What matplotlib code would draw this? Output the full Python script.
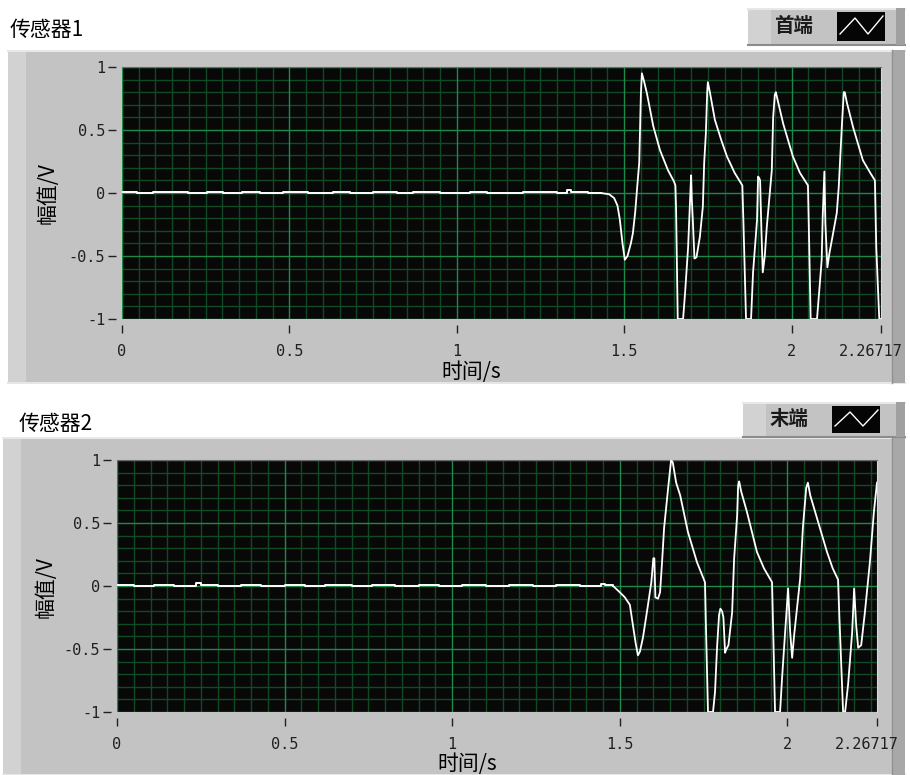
import matplotlib
matplotlib.use("Agg")
import matplotlib.pyplot as plt
import matplotlib.transforms as mtransforms
from matplotlib.patches import Rectangle
from matplotlib.lines import Line2D

W, H = 910, 775
CJK = ["Noto Sans CJK SC", "DejaVu Sans"]

# ===== 数据=====
X_END = 2.26717
XTICKS = [0, 0.5, 1, 1.5, 2, X_END]
XTICK_LABELS = ["0", "0.5", "1", "1.5", "2", "2.26717"]
YTICKS = [-1, -0.5, 0, 0.5, 1]
YTICK_LABELS = ["-1", "-0.5", "0", "0.5", "1"]

# 传感器1：静止段（阶梯）
flat1_t = [0, 0.044, 0.094, 0.198, 0.253, 0.303, 0.358, 0.412, 0.482, 0.557, 0.631,
           0.681, 0.751, 0.820, 0.870, 0.950, 1.039, 1.089, 1.199, 1.298, 1.328, 1.340,
           1.393, 1.43]
flat1_v = [0.008, 0, 0.008, 0, 0.008, 0, 0.008, 0, 0.008, 0, 0.008,
           0, 0.008, 0, 0.008, 0, 0.008, 0, 0.008, 0, 0.02, 0.008,
           0, 0]
# 传感器1：振荡段
wave1_t = [1.43, 1.455, 1.47, 1.48, 1.487, 1.495, 1.502, 1.51, 1.52, 1.526, 1.533, 1.539,
           1.545, 1.55, 1.553, 1.56, 1.568, 1.587, 1.607, 1.631, 1.649, 1.653, 1.655, 1.66,
           1.676, 1.682, 1.691, 1.696, 1.700, 1.702, 1.705, 1.71, 1.716, 1.726, 1.735, 1.739,
           1.744, 1.748, 1.75, 1.756, 1.771, 1.79, 1.807, 1.83, 1.853, 1.856, 1.864, 1.879,
           1.885, 1.897, 1.900, 1.903, 1.906, 1.91, 1.914, 1.92, 1.926, 1.935, 1.941, 1.945,
           1.95, 1.953, 1.96, 1.975, 2.004, 2.025, 2.049, 2.052, 2.057, 2.076, 2.085, 2.09,
           2.093, 2.098, 2.101, 2.107, 2.113, 2.122, 2.135, 2.141, 2.150, 2.156, 2.159, 2.165,
           2.184, 2.213, 2.235, 2.249, 2.253, 2.262, 2.26717]
wave1_v = [0.0, -0.01, -0.04, -0.1, -0.21, -0.4, -0.53, -0.5, -0.4, -0.32, -0.15, 0.05,
           0.24, 0.79, 0.95, 0.88, 0.79, 0.53, 0.34, 0.18, 0.09, 0.06, -0.12, -1.0,
           -1.0, -0.79, -0.43, -0.11, 0.14, -0.05, -0.21, -0.52, -0.51, -0.35, -0.11, 0.24,
           0.47, 0.80, 0.88, 0.80, 0.58, 0.42, 0.29, 0.16, 0.06, -0.21, -1.0, -1.0,
           -0.63, -0.21, 0.13, 0.12, 0.10, -0.3, -0.63, -0.5, -0.27, 0.0, 0.18, 0.6,
           0.78, 0.80, 0.72, 0.55, 0.29, 0.16, 0.06, -0.32, -1.0, -1.0, -0.7, -0.53,
           -0.19, 0.17, -0.24, -0.59, -0.48, -0.35, -0.16, 0.05, 0.52, 0.80, 0.80, 0.72,
           0.52, 0.26, 0.16, 0.10, -0.43, -1.0, -1.0]

# 传感器2：静止段（阶梯）
flat2_t = [0, 0.05, 0.11, 0.17, 0.235, 0.25, 0.30, 0.37, 0.43, 0.50, 0.56, 0.62,
           0.70, 0.76, 0.83, 0.90, 0.96, 1.03, 1.10, 1.17, 1.24, 1.31, 1.38, 1.445,
           1.455, 1.48]
flat2_v = [0.008, 0, 0.008, 0, 0.02, 0.008, 0, 0.008, 0, 0.008, 0, 0.008,
           0, 0.008, 0, 0.008, 0, 0.008, 0, 0.008, 0, 0.008, 0, 0.015,
           0.008, 0]
# 传感器2：振荡段
wave2_t = [1.48, 1.50, 1.515, 1.53, 1.539, 1.547, 1.554, 1.56, 1.569, 1.584, 1.594, 1.600,
           1.603, 1.606, 1.614, 1.62, 1.626, 1.632, 1.645, 1.653, 1.658, 1.668, 1.68, 1.703,
           1.73, 1.754, 1.757, 1.763, 1.778, 1.784, 1.79, 1.796, 1.80, 1.805, 1.809, 1.814,
           1.818, 1.824, 1.835, 1.841, 1.85, 1.853, 1.856, 1.862, 1.879, 1.909, 1.93, 1.954,
           1.958, 1.963, 1.978, 1.984, 1.993, 2.002, 2.008, 2.014, 2.02, 2.038, 2.046, 2.056,
           2.061, 2.068, 2.088, 2.118, 2.135, 2.151, 2.155, 2.166, 2.172, 2.181, 2.193, 2.199,
           2.205, 2.211, 2.22, 2.231, 2.246, 2.258, 2.26717]
wave2_v = [0.0, -0.05, -0.09, -0.15, -0.31, -0.45, -0.55, -0.52, -0.41, -0.15, 0.03, 0.22,
           0.22, -0.09, -0.1, -0.05, 0.19, 0.46, 0.80, 1.0, 0.98, 0.82, 0.72, 0.43,
           0.19, 0.03, -0.33, -1.0, -1.0, -0.84, -0.49, -0.23, -0.18, -0.2, -0.25, -0.53,
           -0.5, -0.47, -0.21, 0.22, 0.56, 0.80, 0.83, 0.75, 0.59, 0.27, 0.14, 0.03,
           -0.41, -1.0, -1.0, -0.73, -0.37, -0.02, -0.36, -0.57, -0.39, 0.06, 0.46, 0.78,
           0.82, 0.72, 0.54, 0.27, 0.14, 0.05, -0.25, -1.0, -1.0, -0.78, -0.37, -0.02,
           -0.31, -0.49, -0.47, -0.21, 0.19, 0.59, 0.82]


def fx(x):
    return x / W


def fy(y):
    return 1 - y / H


def rect(fig, x0, y0, x1, y1, color, z=-5):
    fig.add_artist(Rectangle((fx(x0), fy(y1)), fx(x1 - x0), (y1 - y0) / H,
                             transform=fig.transFigure, facecolor=color,
                             edgecolor="none", linewidth=0, zorder=z))


def hline(fig, x0, x1, y, color, lw=1, z=-4):
    fig.add_artist(Line2D([fx(x0), fx(x1)], [fy(y), fy(y)], transform=fig.transFigure,
                          color=color, lw=lw, zorder=z))


def vline(fig, x, y0, y1, color, lw=1, z=-4):
    fig.add_artist(Line2D([fx(x), fx(x)], [fy(y0), fy(y1)], transform=fig.transFigure,
                          color=color, lw=lw, zorder=z))


fig = plt.figure(figsize=(9.1, 7.75), dpi=100)
fig.patch.set_facecolor("white")

charts = [
    # 标题, 图例文字, 面板, 绘图区(l,t,r,b), 图例框, 数据, 标题位置, x轴名位置, y轴名位置
    ("传感器1", "首端", (8, 50, 905, 383), (122, 67, 881, 319), (748, 8, 905, 45),
     flat1_t, flat1_v, wave1_t, wave1_v, (10, 30), (471, 372), (48, 193)),
    ("传感器2", "末端", (3, 437, 905, 775), (117, 460, 877, 712), (743, 402, 905, 437),
     flat2_t, flat2_v, wave2_t, wave2_v, (19, 424), (467, 764), (46, 587)),
]

for (title, leg, panel, box, legbox, ft, fv, wt, wv, tpos, xlpos, ylpos) in charts:
    px0, py0, px1, py1 = panel
    # 面板
    rect(fig, px0, py0, px1, py1, "#c3c3c3", z=-6)
    rect(fig, px0, py0, px0 + 18, py1, "#d2d2d2", z=-5)
    hline(fig, px0, px1, py0 + 0.5, "#e8e8e8", lw=1.5)
    hline(fig, px0, px1, py1 - 0.5, "#e6e6e6", lw=1.5)
    rect(fig, px1 - 13, py0, px1, py1, "#a8a8a8", z=-4)
    vline(fig, px1 - 13, py0, py1, "#909090", lw=1, z=-4)

    # 图例
    lx0, ly0, lx1, ly1 = legbox
    rect(fig, lx0, ly0, lx1, ly1, "#c3c3c3", z=-5)
    rect(fig, lx0, ly0, lx0 + 23, ly1, "#d2d2d2", z=-5)
    hline(fig, lx0, lx1, ly0 + 0.5, "#e8e8e8", lw=1.5)
    hline(fig, lx0, lx1, ly1 - 0.5, "#8c8c8c", lw=1.5)
    rect(fig, lx1 - 9, ly0, lx1, ly1, "#a0a0a0", z=-4)
    fig.text(fx(lx0 + 46), fy((ly0 + ly1) / 2), leg, family=CJK, fontsize=14,
             fontweight="bold", ha="center", va="center", color="#1a1a1a")
    ix0, iy0, ix1, iy1 = lx0 + 89, ly0 + 4, lx0 + 137, ly1 - 4
    rect(fig, ix0, iy0, ix1, iy1, "#050505", z=-3)
    fig.add_artist(Line2D([fx(ix0 + 3), fx(ix0 + 18), fx(ix0 + 31), fx(ix0 + 46)],
                          [fy(iy1 - 7), fy(iy0 + 6), fy(iy1 - 7), fy(iy0 + 4)],
                          transform=fig.transFigure, color="white", lw=1.0, zorder=-2))

    # 标题与轴名
    fig.text(fx(tpos[0]), fy(tpos[1]), title, family=CJK, fontsize=15,
             ha="left", va="center", color="black")
    fig.text(fx(xlpos[0]), fy(xlpos[1]), "时间/s", family=CJK, fontsize=15,
             ha="center", va="center", color="black")
    fig.text(fx(ylpos[0]), fy(ylpos[1]), "幅值/V", family=CJK, fontsize=15,
             ha="center", va="center", rotation=90, color="black")

    # 绘图区
    l, t, r, b = box
    ax = fig.add_axes([fx(l), fy(b), fx(r - l), (b - t) / H])
    ax.set_facecolor("#080808")
    ax.set_xlim(0, X_END)
    ax.set_ylim(-1, 1)

    for i in range(46):
        x = i * 0.05
        major = i % 10 == 0
        ax.axvline(x, color="#1d8a4a" if major else "#0f4a24", lw=1.0, zorder=2 if major else 1)
    for i in range(21):
        y = -1 + i * 0.1
        major = i % 5 == 0
        ax.axhline(y, color="#1d8a4a" if major else "#0f4a24", lw=1.0, zorder=2 if major else 1)

    ax.plot(ft, fv, color="white", lw=1.4, drawstyle="steps-post", zorder=4)
    ax.plot(wt, wv, color="white", lw=1.3, zorder=4)

    ax.set_xticks(XTICKS)
    ax.set_xticklabels(XTICK_LABELS)
    ax.set_yticks(YTICKS)
    ax.set_yticklabels(YTICK_LABELS)
    for side in ("left", "bottom"):
        ax.spines[side].set_position(("outward", 4))
        ax.spines[side].set_visible(False)
    ax.spines["top"].set_color("#6a6a6a")
    ax.spines["right"].set_color("#d8d8d8")
    ax.tick_params(axis="both", direction="out", length=6, width=1, color="#202020",
                   labelsize=11, labelcolor="#202020", pad=2)
    ax.tick_params(axis="x", pad=8)
    labs = ax.get_xticklabels() + ax.get_yticklabels()
    for lab in labs:
        lab.set_family("DejaVu Sans Mono")
    # 最后一个刻度标签略向左移，避免超出图边
    last = ax.get_xticklabels()[-1]
    last.set_transform(last.get_transform() + mtransforms.ScaledTranslation(-10 / 100, 0, fig.dpi_scale_trans))

fig.savefig("out.png", dpi=100, facecolor="white")
